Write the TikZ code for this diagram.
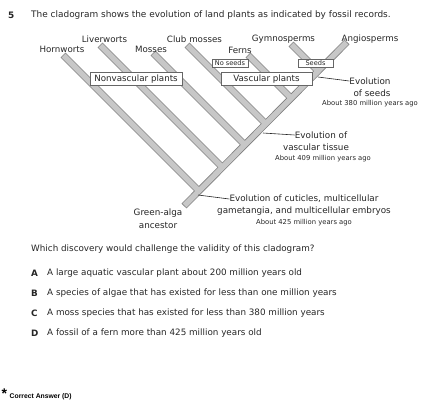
\documentclass[tikz,border=0pt]{standalone}
\usepackage{fontspec}
\setmainfont{DejaVu Sans}
\newfontfamily\arialfont{Liberation Sans}
\begin{document}
\begin{tikzpicture}[x=1pt,y=-1pt,
  txt/.style={inner sep=0pt,text=black!85},
  lbl/.style={txt,font=\fontsize{8.7}{10}\selectfont},
  evo/.style={txt,font=\fontsize{8.8}{10}\selectfont},
  tiny/.style={txt,font=\fontsize{6.8}{8}\selectfont},
  body/.style={txt,anchor=west,font=\fontsize{8.8}{10}\selectfont},
  bigbox/.style={draw=black!60,line width=0.6pt,fill=white,inner xsep=4pt,inner ysep=2pt,text=black!85,font=\fontsize{8.7}{10}\selectfont},
  smallbox/.style={draw=black!60,line width=0.5pt,fill=white,inner xsep=1pt,inner ysep=1pt,text=black!85,font=\fontsize{6.6}{7.5}\selectfont},
  bandout/.style={line width=7pt,draw=black!50},
  bandin/.style={line width=5.4pt,draw=black!22},
  pointer/.style={draw=black!85,line width=0.6pt}]
\useasboundingbox (0,0) rectangle (426,416);
% coordinates
\coordinate (tH) at (63,55);  \coordinate (jH) at (198.5,190.5);
\coordinate (tL) at (100,45); \coordinate (jL) at (222,167);
\coordinate (tM) at (153,53); \coordinate (jM) at (244.5,144.5);
\coordinate (tC) at (187,45); \coordinate (jC) at (265.5,123.5);
\coordinate (tF) at (248,55); \coordinate (jF) at (291,98);
\coordinate (tG) at (291,44); \coordinate (jG) at (318,71);
\coordinate (bot) at (184,206); \coordinate (top) at (347,42);
% bands: outer
\foreach \a/\b in {tH/jH,tL/jL,tM/jM,tC/jC,tF/jF,tG/jG,bot/top}
  \draw[bandout] (\a) -- (\b);
\foreach \a/\b in {tH/jH,tL/jL,tM/jM,tC/jC,tF/jF,tG/jG}
  \draw[bandin,shorten <=0.8pt] (\a) -- (\b);
\draw[bandin,shorten <=0.8pt,shorten >=0.8pt] (bot) -- (top);
% boxes
\node[bigbox,minimum width=92pt,minimum height=12.5pt] (nonvasc) at (136,79) {Nonvascular plants};
\node[bigbox,minimum width=91pt,minimum height=12.5pt] (vasc) at (266.5,79) {Vascular plants};
\node[smallbox,minimum width=36pt,minimum height=8.5pt] (noseeds) at (230,63) {No seeds};
\node[smallbox,minimum width=35pt,minimum height=8.5pt] (seeds) at (315.5,63) {Seeds};
% labels
\node[lbl] (hornworts) at (62,49) {Hornworts};
\node[lbl] (liverworts) at (104.5,39) {Liverworts};
\node[lbl] (mosses) at (151,49) {Mosses};
\node[lbl] (clubmosses) at (194.5,39) {Club mosses};
\node[lbl] (ferns) at (240,50) {Ferns};
\node[lbl] (gymno) at (283.5,39) {Gymnosperms};
\node[lbl] (angio) at (370,39) {Angiosperms};
% seeds annotation
\coordinate (ps) at (318,77);
\node[evo] (seeds1) at (370,81) {Evolution};
\node[evo] (seeds2) at (372,93) {of seeds};
\node[tiny] (seeds3) at (370,104) {About 380 million years ago};
\draw[pointer] (ps) -- (seeds1.west);
% vascular annotation
\coordinate (pv) at (263,133);
\node[evo] (vasc1) at (321,135) {Evolution of};
\node[evo] (vasc2) at (316,147) {vascular tissue};
\node[tiny] (vasc3) at (323,159) {About 409 million years ago};
\draw[pointer] (pv) -- (vasc1.west);
% cuticle annotation
\coordinate (pc) at (198,195);
\node[evo] (cut1) at (304,199) {Evolution of cuticles, multicellular};
\node[evo] (cut2) at (304,211) {gametangia, and multicellular embryos};
\node[tiny] (cut3) at (304,223) {About 425 million years ago};
\draw[pointer] (pc) -- (cut1.west);
% ancestor
\node[evo] (alga1) at (158,213) {Green-alga};
\node[evo] (alga2) at (158,225) {ancestor};
% question
\node[body,font=\bfseries\fontsize{8.9}{10}\selectfont] (qnum) at (8,15) {5};
\node[body,font=\fontsize{8.95}{10}\selectfont] (title) at (31,15) {The cladogram shows the evolution of land plants as indicated by fossil records.};
\node[body] (question) at (31,249) {Which discovery would challenge the validity of this cladogram?};
\node[body,font=\bfseries\fontsize{8.8}{10}\selectfont] (la) at (31,273) {A};
\node[body] (oa) at (47,273) {A large aquatic vascular plant about 200 million years old};
\node[body,font=\bfseries\fontsize{8.8}{10}\selectfont] (lb) at (31,293) {B};
\node[body] (ob) at (47,293) {A species of algae that has existed for less than one million years};
\node[body,font=\bfseries\fontsize{8.8}{10}\selectfont] (lc) at (31,313) {C};
\node[body] (oc) at (47,313) {A moss species that has existed for less than 380 million years};
\node[body,font=\bfseries\fontsize{8.8}{10}\selectfont] (ld) at (31,333) {D};
\node[body] (od) at (47,333) {A fossil of a fern more than 425 million years old};
% answer
\node[txt,anchor=west,font=\arialfont\bfseries\fontsize{14}{15}\selectfont,text=black] (star) at (1.5,394) {*};
\node[txt,anchor=west,font=\arialfont\bfseries\fontsize{6.8}{8}\selectfont,text=black] (answer) at (9.5,397) {Correct Answer (D)};
\end{tikzpicture}
\end{document}
